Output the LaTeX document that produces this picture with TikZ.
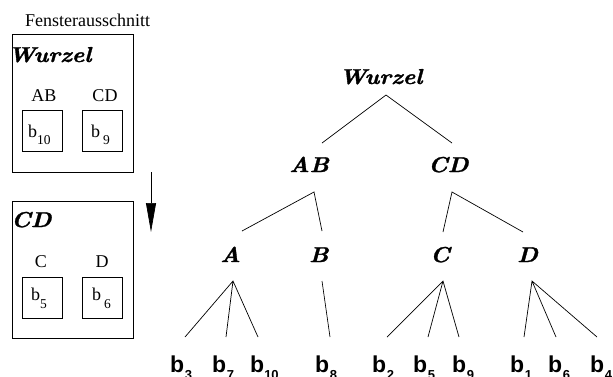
\documentclass[tikz,border=0pt]{standalone}
\usepackage{fontspec}
\newfontfamily\tms{Liberation Serif}
\newfontfamily\hlv{Liberation Sans}
\newfontfamily\headfont{lmroman10-bolditalic.otf}[FakeStretch=1.1,FakeBold=1.5]
\usetikzlibrary{arrows.meta}
\newcommand\boxsub[3]{b\kern#1\raisebox{-#2}{\fontsize{13.5}{13.5}\selectfont #3}}
\newcommand\leafsub[2]{b\kern#1\raisebox{-7pt}{\fontsize{13}{13}\selectfont #2}}
\begin{document}
\begin{tikzpicture}[x=1pt,y=-1pt,
  head/.style={font=\headfont\fontsize{21.5}{21.5}\selectfont, inner sep=0pt, anchor=base west},
  lbl/.style={font=\tms\fontsize{18}{18}\selectfont, inner sep=0pt, anchor=base},
  blbl/.style={font=\tms\fontsize{18}{18}\selectfont, inner sep=0pt, anchor=base west},
  leaf/.style={font=\hlv\bfseries\fontsize{23}{23}\selectfont, inner sep=0pt, anchor=base west},
  edge/.style={line width=0.7pt},
  frame/.style={draw, line width=0.7pt}]
\useasboundingbox (0,0) rectangle (613,376);

% ---- window excerpt (left) ----
\node[blbl] (title) at (25,26) {Fensterausschnitt};
\draw[frame] (12,34) rectangle (133,172);
\node[head] (bw) at (8,62) {Wurzel};
\node[lbl] (bAB) at (44,101) {AB};
\node[lbl] (bCD) at (105,101) {CD};
\draw[frame] (22,110) rectangle (62,151);
\draw[frame] (82,110) rectangle (122,151);
\node[blbl] (b10box) at (28,137) {\boxsub{0pt}{7pt}{10}};
\node[blbl] (b9box) at (91,137) {\boxsub{3pt}{7pt}{9}};

\coordinate (arS) at (151,172);
\coordinate (arE) at (151,232);
\draw[line width=0.7pt,-{Triangle[length=29pt,width=10pt]}] (arS) -- (arE);

\draw[frame] (12,201) rectangle (133,338);
\node[head] (bcd) at (11,227) {CD};
\node[lbl] (bC) at (41,267) {C};
\node[lbl] (bD) at (102,267) {D};
\draw[frame] (22,277) rectangle (62,318);
\draw[frame] (82,277) rectangle (122,318);
\node[blbl] (b5box) at (31,300) {\boxsub{0pt}{8pt}{5}};
\node[blbl] (b6box) at (92,300) {\boxsub{3pt}{8pt}{6}};

% ---- tree (right) ----
\node[head] (W) at (339,84) {Wurzel};
\node[head] (AB) at (289,172) {AB};
\node[head] (CD) at (428,172) {CD};
\node[head] (A) at (220,262) {A};
\node[head] (B) at (309,262) {B};
\node[head] (C) at (430,262) {C};
\node[head] (D) at (517,262) {D};

\node[leaf] (l3) at (170,372) {\leafsub{0.5pt}{3}};
\node[leaf] (l7) at (212,372) {\leafsub{0.5pt}{7}};
\node[leaf] (l10) at (250,372) {\leafsub{0pt}{10}};
\node[leaf] (l8) at (315,372) {\leafsub{0.5pt}{8}};
\node[leaf] (l2) at (372,372) {\leafsub{0.5pt}{2}};
\node[leaf] (l5) at (413,372) {\leafsub{0.5pt}{5}};
\node[leaf] (l9) at (452,372) {\leafsub{0.5pt}{9}};
\node[leaf] (l1) at (510,372) {\leafsub{0.5pt}{1}};
\node[leaf] (l6) at (548,372) {\leafsub{0.5pt}{6}};
\node[leaf] (l4) at (590,372) {\leafsub{0.5pt}{4}};

% edge end points
\coordinate (Wd) at (386,95);
\coordinate (ABu) at (322,143);
\coordinate (CDu) at (452,143);
\coordinate (ABd) at (314,192);
\coordinate (Au) at (242,231);
\coordinate (Bu) at (322,231);
\coordinate (CDd) at (452,192);
\coordinate (Cu) at (443,232);
\coordinate (Du) at (523,232);
\coordinate (Ad) at (233,281);
\coordinate (Bd) at (322,281);
\coordinate (Cd) at (443,281);
\coordinate (Dd) at (532,281);
\coordinate (u3) at (185,337);
\coordinate (u7) at (226,337);
\coordinate (u10) at (258,337);
\coordinate (u8) at (330,337);
\coordinate (u2) at (387,337);
\coordinate (u5) at (428,337);
\coordinate (u9) at (459,337);
\coordinate (u1) at (524,337);
\coordinate (u6) at (556,337);
\coordinate (u4) at (597,337);

\draw[edge] (ABu) -- (Wd) -- (CDu);
\draw[edge] (Au) -- (ABd) -- (Bu);
\draw[edge] (Cu) -- (CDd) -- (Du);
\draw[edge] (u3) -- (Ad) -- (u10) (Ad) -- (u7);
\draw[edge] (Bd) -- (u8);
\draw[edge] (u2) -- (Cd) -- (u9) (Cd) -- (u5);
\draw[edge] (u1) -- (Dd) -- (u4) (Dd) -- (u6);
\end{tikzpicture}
\end{document}
